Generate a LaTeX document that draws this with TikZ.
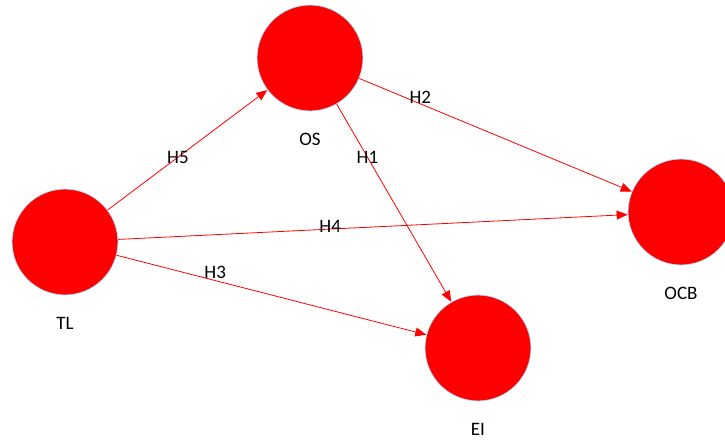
\documentclass[tikz,border=0pt]{standalone}
\usepackage{fontspec}
\setmainfont{Carlito}
\usetikzlibrary{positioning, arrows.meta}

\begin{document}
\begin{tikzpicture}[x=1pt,y=-1pt,>={Triangle[length=11pt,width=9pt]},font=\fontsize{19}{22}\selectfont]
    \tikzset{
        construct/.style={circle, minimum size=106pt, inner sep=0pt, fill=red, draw=blue!25!cyan!35, line width=0.8pt},
        path/.style={->, draw=red, line width=0.8pt}
    }
    \useasboundingbox (0,0) rectangle (725,439);
    \node (os) [construct] at (310,58) {};
    \node (tl) [construct] at (65,242) {};
    \node (ocb) [construct] at (681,212) {};
    \node (ei) [construct] at (478,348) {};
    \node (ostext) [below=18pt of os] {OS};
    \node (tltext) [below=18pt of tl] {TL};
    \node (ocbtext) [below=18pt of ocb] {OCB};
    \node (eitext) [below=18pt of ei] {EI};
    \draw [path] (tl) -- node[pos=0.44] {H5} (os);
    \draw [path] (os) -- node[pos=0.224, yshift=6pt] {H2} (ocb);
    \draw [path] (os) -- node[pos=0.268] {H1} (ei);
    \draw [path] (tl) -- node[pos=0.416, yshift=3pt] {H4} (ocb);
    \draw [path] (tl) -- node[pos=0.318, yshift=8pt] {H3} (ei);
\end{tikzpicture}
\end{document}
